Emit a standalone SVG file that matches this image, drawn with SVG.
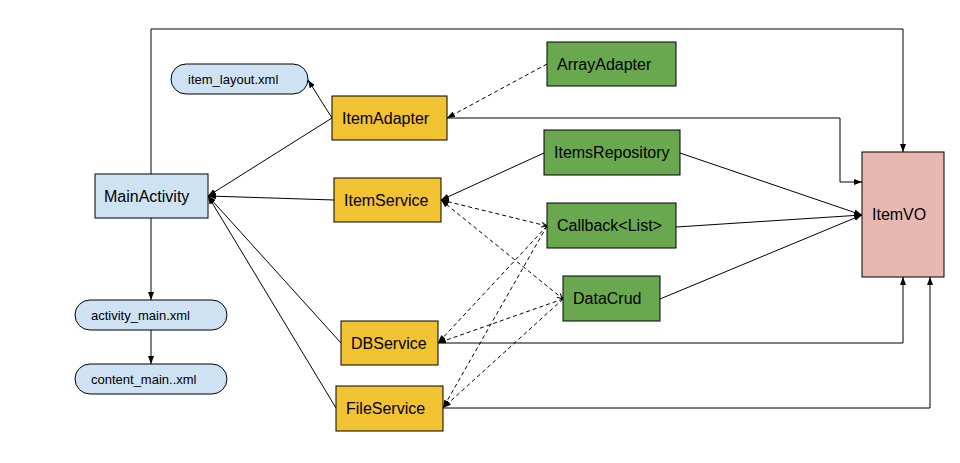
<svg xmlns="http://www.w3.org/2000/svg" width="960" height="463" viewBox="0 0 960 463">
  <style>
    .box { stroke: #000; stroke-width: 1; }
    .blue { fill: #cfe2f3; }
    .yellow { fill: #f1c232; }
    .green { fill: #6aa84f; }
    .pink { fill: #e6b8af; }
    .lbl { font-family: "Liberation Sans", Arial, sans-serif; font-size: 16px; fill: #000; }
    .sm { font-size: 13px; }
    .ln { fill: none; stroke: #000; stroke-width: 1; }
    .dash { stroke-dasharray: 4 3; }
  </style>
  <defs>
    <marker id="arr" viewBox="0 0 8 6" refX="8" refY="3" markerWidth="8" markerHeight="6" markerUnits="userSpaceOnUse" orient="auto-start-reverse">
      <path d="M0,0 L8,3 L0,6 Z" fill="#000"/>
    </marker>
    <marker id="arrs" viewBox="0 0 6 6" refX="6" refY="3" markerWidth="6" markerHeight="6" markerUnits="userSpaceOnUse" orient="auto">
      <path d="M0,0.5 L6,3 L0,5.5" fill="none" stroke="#000" stroke-width="1"/>
    </marker>
  </defs>

  <g id="connectors">
    <!-- MainActivity to ItemVO across the top -->
    <polyline class="ln" points="151,174 151,29 903,29 903,152" marker-end="url(#arr)"/>
    <!-- layouts -->
    <line class="ln" x1="151" y1="218" x2="151" y2="300" marker-end="url(#arr)"/>
    <line class="ln" x1="151" y1="330" x2="151" y2="364" marker-end="url(#arr)"/>
    <line class="ln" x1="332" y1="118" x2="308" y2="80" marker-end="url(#arr)"/>
    <!-- services into MainActivity -->
    <line class="ln" x1="332" y1="118" x2="208" y2="196" marker-end="url(#arr)"/>
    <line class="ln" x1="334" y1="200" x2="208" y2="196" marker-end="url(#arr)"/>
    <line class="ln" x1="341" y1="343" x2="208" y2="196" marker-end="url(#arr)"/>
    <line class="ln" x1="336" y1="408" x2="208" y2="196" marker-end="url(#arr)"/>
    <!-- adapter -->
    <line class="ln dash" x1="547" y1="64" x2="447" y2="118" marker-end="url(#arr)"/>
    <polyline class="ln" points="447,118 840,118 840,182 862,182" marker-end="url(#arr)"/>
    <!-- repository -->
    <line class="ln" x1="544" y1="153" x2="441" y2="200" marker-end="url(#arr)"/>
    <!-- into ItemVO -->
    <line class="ln" x1="680" y1="153" x2="862" y2="215" marker-end="url(#arr)"/>
    <line class="ln" x1="676" y1="227" x2="862" y2="215" marker-end="url(#arr)"/>
    <line class="ln" x1="660" y1="299" x2="862" y2="215" marker-end="url(#arr)"/>
    <!-- ItemService with Callback and DataCrud -->
    <line class="ln dash" x1="441" y1="200" x2="547" y2="226" marker-start="url(#arr)" marker-end="url(#arrs)"/>
    <line class="ln dash" x1="441" y1="200" x2="563" y2="299" marker-start="url(#arr)" marker-end="url(#arrs)"/>
    <!-- Callback and DataCrud to storage services -->
    <line class="ln dash" x1="547" y1="226" x2="438" y2="343" marker-end="url(#arr)"/>
    <line class="ln dash" x1="547" y1="226" x2="443" y2="408" marker-end="url(#arr)"/>
    <line class="ln dash" x1="563" y1="299" x2="438" y2="343" marker-end="url(#arr)"/>
    <line class="ln dash" x1="563" y1="299" x2="443" y2="408" marker-end="url(#arr)"/>
    <!-- storage services to ItemVO -->
    <polyline class="ln" points="438,343 903,343 903,277" marker-end="url(#arr)"/>
    <polyline class="ln" points="443,408 930,408 930,277" marker-end="url(#arr)"/>
  </g>

  <g id="item_layout">
    <rect class="box blue" x="171" y="64" width="137" height="30" rx="15"/>
    <text class="lbl sm" x="188" y="83.7">item_layout.xml</text>
  </g>
  <g id="activity_main">
    <rect class="box blue" x="75" y="300" width="152" height="30" rx="15"/>
    <text class="lbl sm" x="91" y="319.7">activity_main.xml</text>
  </g>
  <g id="content_main">
    <rect class="box blue" x="75" y="364" width="152" height="30" rx="15"/>
    <text class="lbl sm" x="91" y="383.7">content_main..xml</text>
  </g>
  <g id="MainActivity">
    <rect class="box blue" x="95" y="174" width="113" height="44"/>
    <text class="lbl" x="104" y="202">MainActivity</text>
  </g>
  <g id="ItemAdapter">
    <rect class="box yellow" x="332" y="96" width="115" height="44"/>
    <text class="lbl" x="342" y="124">ItemAdapter</text>
  </g>
  <g id="ItemService">
    <rect class="box yellow" x="334" y="178" width="107" height="44"/>
    <text class="lbl" x="344" y="206">ItemService</text>
  </g>
  <g id="DBService">
    <rect class="box yellow" x="341" y="321" width="97" height="44"/>
    <text class="lbl" x="351" y="349">DBService</text>
  </g>
  <g id="FileService">
    <rect class="box yellow" x="336" y="386" width="107" height="45"/>
    <text class="lbl" x="346" y="414">FileService</text>
  </g>
  <g id="ArrayAdapter">
    <rect class="box green" x="547" y="42" width="129" height="44"/>
    <text class="lbl" x="557" y="70">ArrayAdapter</text>
  </g>
  <g id="ItemsRepository">
    <rect class="box green" x="544" y="130" width="136" height="45"/>
    <text class="lbl" x="554" y="158">ItemsRepository</text>
  </g>
  <g id="Callback">
    <rect class="box green" x="547" y="203" width="129" height="45"/>
    <text class="lbl" x="557" y="231">Callback&lt;List&gt;</text>
  </g>
  <g id="DataCrud">
    <rect class="box green" x="563" y="276" width="97" height="45"/>
    <text class="lbl" x="573" y="304">DataCrud</text>
  </g>
  <g id="ItemVO">
    <rect class="box pink" x="862" y="152" width="82" height="125"/>
    <text class="lbl" x="872" y="220">ItemVO</text>
  </g>
</svg>
